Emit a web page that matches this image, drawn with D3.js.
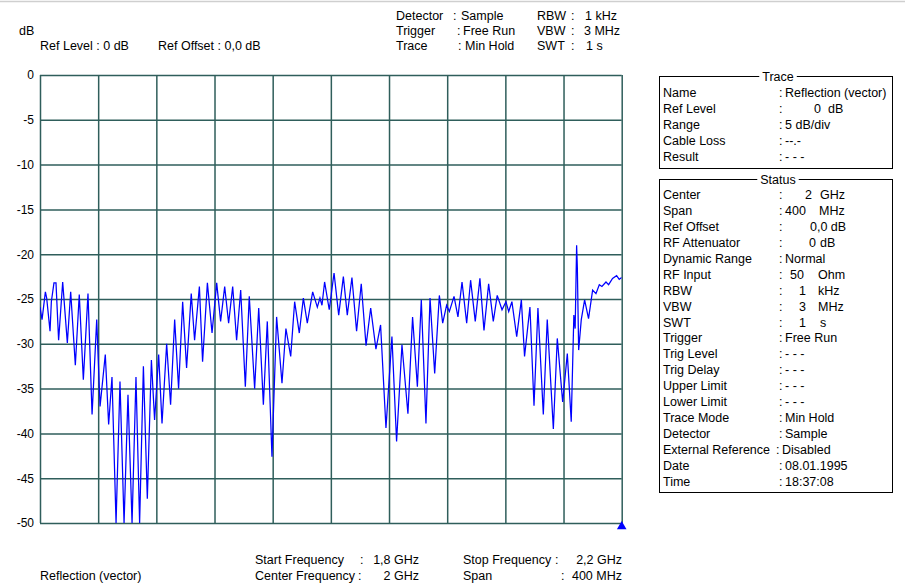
<!DOCTYPE html>
<html>
<head>
<meta charset="utf-8">
<script src="https://cdn.jsdelivr.net/npm/d3@7"></script>
<style>
  html, body { margin: 0; padding: 0; background: #fff; }
  svg { display: block; }
  text { font-family: "Liberation Sans", Arial, sans-serif; font-size: 12.5px; fill: #000; }
</style>
</head>
<body>
<svg id="chart" width="905" height="583"></svg>
<script>
// ---------- data ----------
const yTicks = [0, -5, -10, -15, -20, -25, -30, -35, -40, -45, -50];
const xGridMHz = [1800, 1840, 1880, 1920, 1960, 2000, 2040, 2080, 2120, 2160, 2200];

const traceFreqMHz = [
  1800.0, 1801.4, 1803.7, 1804.6, 1806.9, 1807.8, 1809.6, 1811.0, 1812.8, 1815.6,
  1818.8, 1821.1, 1824.3, 1827.0, 1829.8, 1833.0, 1835.8, 1839.0, 1841.3, 1844.9,
  1847.2, 1849.5, 1852.3, 1855.0, 1857.8, 1860.5, 1863.3, 1866.0, 1868.5, 1871.1,
  1873.8, 1876.6, 1878.8, 1881.6, 1883.9, 1887.1, 1889.8, 1892.6, 1895.3, 1898.1,
  1900.8, 1904.0, 1906.3, 1909.6, 1911.8, 1915.1, 1918.3, 1921.5, 1924.2, 1927.0,
  1929.7, 1932.5, 1935.2, 1938.0, 1941.2, 1943.9, 1947.6, 1950.4, 1953.6, 1956.3,
  1959.5, 1962.7, 1966.4, 1969.1, 1972.4, 1975.1, 1978.3, 1981.1, 1983.8, 1987.5,
  1990.7, 1992.5, 1993.9, 1995.7, 1998.9, 2002.2, 2005.4, 2008.6, 2011.3, 2014.5,
  2017.7, 2020.9, 2024.2, 2027.4, 2031.0, 2034.2, 2037.9, 2042.0, 2045.2, 2048.9,
  2053.0, 2056.2, 2059.5, 2062.2, 2065.4, 2068.2, 2071.4, 2074.6, 2076.9, 2079.6,
  2081.5, 2084.7, 2087.4, 2090.2, 2093.4, 2096.1, 2099.3, 2102.5, 2105.3, 2108.5,
  2111.7, 2114.4, 2117.7, 2120.4, 2122.3, 2124.5, 2127.8, 2131.0, 2133.2, 2136.9,
  2139.7, 2142.4, 2146.1, 2148.8, 2153.0, 2155.7, 2159.4, 2162.6, 2165.3, 2167.1,
  2168.0, 2169.0, 2169.5, 2170.4, 2172.2, 2174.5, 2177.2, 2180.0, 2182.3, 2184.6,
  2186.4, 2189.2, 2191.0, 2193.7, 2196.5, 2198.3, 2200.0
];
const traceDb = [
  -25.9, -27.3, -24.2, -24.9, -28.6, -25.3, -23.2, -23.2, -29.6, -23.1,
  -29.9, -24.2, -32.4, -24.5, -34.0, -24.4, -37.9, -27.3, -37.0, -31.2,
  -39.0, -33.7, -50.0, -34.2, -50.0, -35.7, -50.0, -33.7, -50.0, -32.5,
  -47.3, -31.8, -38.5, -31.2, -38.9, -30.0, -36.8, -27.3, -35.0, -25.3,
  -32.7, -24.4, -29.6, -23.6, -32.0, -23.2, -28.8, -23.2, -27.5, -23.6,
  -27.7, -23.6, -29.6, -24.0, -34.8, -24.7, -35.0, -26.0, -36.8, -27.5,
  -42.6, -27.0, -34.4, -28.3, -31.4, -25.3, -28.8, -24.9, -27.7, -24.2,
  -25.9, -24.9, -25.7, -23.1, -26.2, -22.1, -26.8, -22.5, -26.8, -22.6,
  -28.6, -23.3, -30.2, -26.0, -30.6, -27.9, -39.4, -29.2, -40.9, -30.1,
  -37.8, -27.0, -34.8, -25.1, -38.9, -24.9, -33.3, -24.6, -27.7, -25.7,
  -26.4, -24.7, -27.0, -23.1, -27.7, -22.9, -27.5, -22.7, -28.5, -23.3,
  -27.5, -24.6, -26.2, -25.3, -26.4, -25.3, -29.2, -25.1, -31.4, -25.9,
  -36.9, -26.0, -37.9, -27.3, -39.5, -29.4, -36.5, -31.1, -38.7, -26.8,
  -28.3, -19.0, -21.5, -30.7, -27.3, -25.1, -27.2, -24.0, -24.4, -23.4,
  -23.6, -23.1, -23.4, -22.7, -22.4, -22.8, -22.6
];

const headerLeft = ["Ref Level : 0 dB", "Ref Offset : 0,0 dB"];
const headerMidLabels = ["Detector", "Trigger", "Trace"];
const headerMidValues = ["Sample", "Free Run", "Min Hold"];
const headerRightLabels = ["RBW", "VBW", "SWT"];
const headerRightValues = ["1 kHz", "3 MHz", "1 s"];

const footerLabels = ["Start Frequency", "Center Frequency", "Stop Frequency", "Span"];
const footerValues = ["1,8 GHz", "2 GHz", "2,2 GHz", "400 MHz"];
const traceName = "Reflection (vector)";

const traceRowLabels = ["Name", "Ref Level", "Range", "Cable Loss", "Result"];
const traceRowValues = ["Reflection (vector)", "0", "5 dB/div", "--.-", "- - -"];
const traceRowUnits  = ["", "dB", "", "", ""];

const statusRowLabels = ["Center", "Span", "Ref Offset", "RF Attenuator", "Dynamic Range",
  "RF Input", "RBW", "VBW", "SWT", "Trigger", "Trig Level", "Trig Delay", "Upper Limit",
  "Lower Limit", "Trace Mode", "Detector", "External Reference", "Date", "Time"];
const statusRowValues = ["2", "400", "0,0 dB", "0", "Normal", "50", "1", "3", "1", "Free Run",
  "- - -", "- - -", "- - -", "- - -", "Min Hold", "Sample", "Disabled", "08.01.1995", "18:37:08"];
const statusRowUnits = ["GHz", "MHz", "", "dB", "", "Ohm", "kHz", "MHz", "s", "",
  "", "", "", "", "", "", "", "", ""];

// ---------- layout ----------
const svg = d3.select("#chart");
svg.append("rect").attr("width", 905).attr("height", 583).attr("fill", "#fff");
svg.append("line").attr("x1", 0).attr("x2", 905).attr("y1", 1.5).attr("y2", 1.5)
  .attr("stroke", "#cfcfcf").attr("stroke-width", 1.5);

const plot = { left: 40, right: 621.7, top: 75, bottom: 523 };
const x = d3.scaleLinear().domain([1800, 2200]).range([plot.left, plot.right]);
const y = d3.scaleLinear().domain([0, -50]).range([plot.top, plot.bottom]);
const gridColor = "#2f5e5b";

// horizontal grid + y labels
const yAxis = d3.axisLeft(y).tickValues(yTicks).tickFormat(d => String(d))
  .tickSize(-(plot.right - plot.left)).tickPadding(6);
const gy = svg.append("g").attr("transform", `translate(${plot.left},0)`).call(yAxis);
gy.select(".domain").remove();
gy.selectAll("line").attr("stroke", gridColor).attr("stroke-width", 1.5);
gy.selectAll("text").style("font-size", "12px").style("font-family", "Liberation Sans, Arial, sans-serif").attr("fill", "#000");

// vertical grid
const xAxis = d3.axisBottom(x).tickValues(xGridMHz).tickFormat("")
  .tickSize(-(plot.bottom - plot.top));
const gx = svg.append("g").attr("transform", `translate(0,${plot.bottom})`).call(xAxis);
gx.select(".domain").remove();
gx.selectAll("line").attr("stroke", gridColor).attr("stroke-width", 1.5);

// trace
svg.append("clipPath").attr("id", "clip").append("rect")
  .attr("x", plot.left).attr("y", plot.top - 2)
  .attr("width", plot.right - plot.left).attr("height", plot.bottom - plot.top + 2);
const pts = traceFreqMHz.map((f, i) => [f, traceDb[i]]);
const line = d3.line().x(d => x(d[0])).y(d => y(d[1]));
svg.append("path").datum(pts).attr("d", line).attr("fill", "none")
  .attr("stroke", "#0000ff").attr("stroke-width", 1.25).attr("clip-path", "url(#clip)");

// marker triangle
svg.append("path")
  .attr("d", d3.symbol().type(d3.symbolTriangle).size(40)())
  .attr("transform", `translate(${x(2200)},${plot.bottom + 3.5})`)
  .attr("fill", "#0000ff");

// ---------- header ----------
function txt(t, tx, ty, anchor) {
  return svg.append("text").attr("x", tx).attr("y", ty).attr("text-anchor", anchor || "start").text(t);
}
txt("dB", 19, 35);
txt(headerLeft[0], 40, 50);
txt(headerLeft[1], 158, 50);
const hdrY = [20, 35, 50];
const midColon = [453, 457, 458];
const midVal = [461, 463, 465];
headerMidLabels.forEach((l, i) => {
  txt(l, 396, hdrY[i]);
  txt(":", midColon[i], hdrY[i]);
  txt(headerMidValues[i], midVal[i], hdrY[i]);
});
const rightValX = [585, 584, 586];
headerRightLabels.forEach((l, i) => {
  txt(l, 537, hdrY[i]);
  txt(":", 571, hdrY[i]);
  txt(headerRightValues[i], rightValX[i], hdrY[i]);
});

// ---------- footer ----------
txt(traceName, 40, 580);
const ftX = [255, 255, 463, 463];
const ftY = [564, 580, 564, 580];
const ftColon = [360, 358, 555, 561];
const ftValEnd = [419, 419, 622, 622];
footerLabels.forEach((l, i) => {
  txt(l, ftX[i], ftY[i]);
  txt(":", ftColon[i], ftY[i]);
  txt(footerValues[i], ftValEnd[i], ftY[i], "end");
});

// ---------- side panels ----------
function box(title, top, bottom) {
  svg.append("rect").attr("x", 659.5).attr("y", top).attr("width", 233).attr("height", bottom - top)
    .attr("fill", "none").attr("stroke", "#000").attr("stroke-width", 1);
  const t = txt(title, 778, top + 4, "middle");
  const bb = t.node().getBBox();
  svg.insert("rect", () => t.node()).attr("x", bb.x - 3).attr("y", top - 2)
    .attr("width", bb.width + 6).attr("height", 4).attr("fill", "#fff");
}
box("Trace", 76.5, 168.5);
box("Status", 179.5, 492.5);

const labelX = 663;
const colonX = 779;
const valX = 785;
const traceNumRight = { "Ref Level": 821 };
const traceUnitX = { "Ref Level": 828 };
traceRowLabels.forEach((l, i) => {
  const yy = 97 + i * 15.9;
  txt(l, labelX, yy);
  txt(":", colonX, yy);
  if (traceRowUnits[i]) {
    txt(traceRowValues[i], traceNumRight[l], yy, "end");
    txt(traceRowUnits[i], traceUnitX[l], yy);
  } else {
    txt(traceRowValues[i], valX, yy);
  }
});

// number columns: right edge of a number, or left start when listed in statusNumLeft
const statusNumRight = { "Center": 812, "RF Attenuator": 816, "RF Input": 804,
  "RBW": 806, "VBW": 806, "SWT": 806 };
const statusNumLeft = { "Span": 785 };
const statusUnitX = { "Center": 820, "Span": 819, "RF Attenuator": 820, "RF Input": 818,
  "RBW": 818, "VBW": 818, "SWT": 820 };
const specialValX = { "Ref Offset": 810, "External Reference": 782 };
const specialColonX = { "External Reference": 776 };
statusRowLabels.forEach((l, i) => {
  const yy = 199 + i * 15.94;
  txt(l, labelX, yy);
  txt(":", specialColonX[l] || colonX, yy);
  if (statusRowUnits[i]) {
    if (statusNumLeft[l]) txt(statusRowValues[i], statusNumLeft[l], yy);
    else txt(statusRowValues[i], statusNumRight[l], yy, "end");
    txt(statusRowUnits[i], statusUnitX[l], yy);
  } else {
    txt(statusRowValues[i], specialValX[l] || valX, yy);
  }
});
</script>
</body>
</html>
